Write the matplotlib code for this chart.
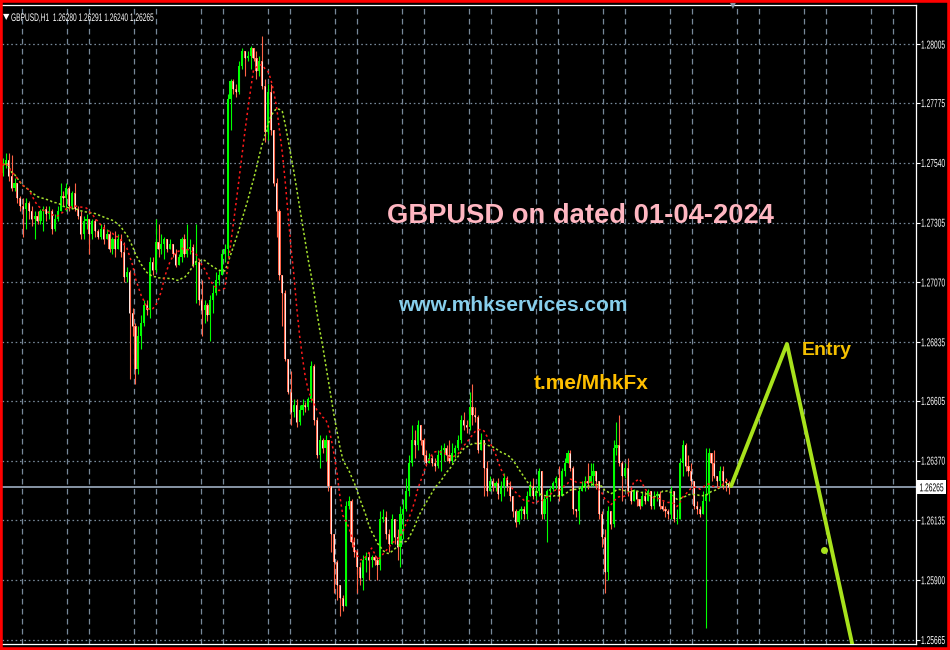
import numpy as np
import pandas as pd
import matplotlib
matplotlib.use("Agg")
import matplotlib.pyplot as plt
import matplotlib.transforms as mtransforms
from matplotlib.patches import Rectangle, PathPatch
from matplotlib.textpath import TextPath
from matplotlib.font_manager import FontProperties

# ── GBPUSD H1, valores ────────────────────────────────────────────────────────
first_open = 1.2750
closes = [
    1.2753, 1.2755, 1.2749, 1.2744, 1.2746, 1.2740, 1.2737, 1.2736, 1.2738, 1.2735,
    1.2732, 1.2733, 1.2731, 1.2735, 1.2736, 1.2734, 1.2735, 1.2728, 1.2732, 1.2735,
    1.2741, 1.2740, 1.2744, 1.2737, 1.2742, 1.2736, 1.2733, 1.2726, 1.2731, 1.2732,
    1.2726, 1.2731, 1.2727, 1.2725, 1.2728, 1.2724, 1.2726, 1.2720, 1.2724, 1.2720,
    1.2724, 1.2719, 1.2709, 1.2711, 1.2695, 1.2690, 1.2673, 1.2686, 1.2691, 1.2698,
    1.2696, 1.2715, 1.2712, 1.2723, 1.2720, 1.2722, 1.2724, 1.2720, 1.2722, 1.2718,
    1.2714, 1.2717, 1.2724, 1.2718, 1.2720, 1.2721, 1.2714, 1.2715, 1.2700, 1.2696,
    1.2698, 1.2694, 1.2700, 1.2703, 1.2708, 1.2710, 1.2718, 1.2720, 1.2779, 1.2786,
    1.2783, 1.2782, 1.2792, 1.2798, 1.2795, 1.2796, 1.2799, 1.2795, 1.2790, 1.2794,
    1.2784, 1.2766, 1.2782, 1.2767, 1.2746, 1.2735, 1.2710, 1.2703, 1.2677, 1.2664,
    1.2656, 1.2659, 1.2652, 1.2657, 1.2659, 1.2658, 1.2661, 1.2674, 1.2653, 1.2639,
    1.2645, 1.2642, 1.2645, 1.2627, 1.2608, 1.2597, 1.2588, 1.2583, 1.2580, 1.2619,
    1.2621, 1.2605, 1.2601, 1.2595, 1.2591, 1.2598, 1.2599, 1.2598, 1.2599, 1.2598,
    1.2596, 1.2614, 1.2615, 1.2608, 1.2604, 1.2614, 1.2607, 1.2603, 1.2616, 1.2618,
    1.2625, 1.2636, 1.2645, 1.2643, 1.2651, 1.2645, 1.2639, 1.2636, 1.2638, 1.2636,
    1.2635, 1.2639, 1.2641, 1.2642, 1.2639, 1.2637, 1.2640, 1.2642, 1.2645, 1.2653,
    1.2651, 1.2650, 1.2658, 1.2655, 1.2654, 1.2641, 1.2645, 1.2634, 1.2625, 1.2629,
    1.2627, 1.2628, 1.2624, 1.2627, 1.2630, 1.2627, 1.2623, 1.2617, 1.2613, 1.2617,
    1.2618, 1.2616, 1.2623, 1.2627, 1.2623, 1.2625, 1.2633, 1.2616, 1.2622, 1.2625,
    1.2626, 1.2628, 1.2630, 1.2623, 1.2633, 1.2636, 1.2640, 1.2634, 1.2618, 1.2617,
    1.2625, 1.2627, 1.2629, 1.2628, 1.2631, 1.2633, 1.2629, 1.2616, 1.2607, 1.2593,
    1.2617, 1.2612, 1.2642, 1.2643, 1.2636, 1.2631, 1.2634, 1.2625, 1.2621, 1.2625,
    1.2622, 1.2619, 1.2623, 1.2621, 1.2625, 1.2619, 1.2623, 1.2624, 1.2619, 1.2618,
    1.2617, 1.2616, 1.2625, 1.2614, 1.2614, 1.2636, 1.2643, 1.2635, 1.2633, 1.2629,
    1.2619, 1.2618, 1.2616, 1.2621, 1.2624, 1.2640, 1.2636, 1.2631, 1.2629, 1.2633,
    1.2629, 1.2628, 1.26265,
]
highs = [
    1.2756, 1.2758, 1.2758, 1.2757, 1.2748, 1.2746, 1.2741, 1.2740, 1.2740, 1.2739,
    1.2737, 1.2735, 1.2735, 1.2736, 1.2737, 1.2737, 1.2737, 1.2736, 1.2734, 1.2737,
    1.2746, 1.2743, 1.2746, 1.2745, 1.2743, 1.2746, 1.2737, 1.2735, 1.2733, 1.2734,
    1.2732, 1.2732, 1.2732, 1.2728, 1.2730, 1.2730, 1.2728, 1.2727, 1.2725, 1.2727,
    1.2726, 1.2726, 1.2723, 1.2713, 1.2712, 1.2697, 1.2691, 1.2690, 1.2694, 1.2700,
    1.2700, 1.2717, 1.2717, 1.2732, 1.2730, 1.2726, 1.2725, 1.2724, 1.2724, 1.2722,
    1.2720, 1.2718, 1.2725, 1.2726, 1.2730, 1.2724, 1.2722, 1.2730, 1.2716, 1.2708,
    1.2700, 1.2699, 1.2702, 1.2706, 1.2711, 1.2712, 1.2720, 1.2722, 1.2781, 1.2787,
    1.2787, 1.2785, 1.2794, 1.2799, 1.2798, 1.2798, 1.2800, 1.2798, 1.2798, 1.2796,
    1.2804, 1.2787, 1.2785, 1.2785, 1.2767, 1.2748, 1.2736, 1.2710, 1.2704, 1.2671,
    1.2672, 1.2661, 1.2661, 1.2659, 1.2661, 1.2660, 1.2662, 1.2676, 1.2675, 1.2654,
    1.2647, 1.2646, 1.2647, 1.2643, 1.2627, 1.2608, 1.2598, 1.2588, 1.2584, 1.2621,
    1.2623, 1.2622, 1.2607, 1.2602, 1.2597, 1.2600, 1.2601, 1.2601, 1.2600, 1.2600,
    1.2599, 1.2617, 1.2618, 1.2617, 1.2610, 1.2616, 1.2614, 1.2610, 1.2619, 1.2622,
    1.2630, 1.2639, 1.2651, 1.2649, 1.2653, 1.2649, 1.2646, 1.2641, 1.2640, 1.2639,
    1.2638, 1.2641, 1.2643, 1.2644, 1.2643, 1.2645, 1.2644, 1.2643, 1.2647, 1.2655,
    1.2656, 1.2653, 1.2664, 1.2667, 1.2658, 1.2655, 1.2648, 1.2645, 1.2637, 1.2631,
    1.2630, 1.2629, 1.2630, 1.2629, 1.2632, 1.2631, 1.2629, 1.2623, 1.2618, 1.2618,
    1.2619, 1.2619, 1.2625, 1.2629, 1.2630, 1.2627, 1.2634, 1.2633, 1.2623, 1.2626,
    1.2627, 1.2629, 1.2631, 1.2635, 1.2634, 1.2638, 1.2641, 1.2641, 1.2635, 1.2618,
    1.2627, 1.2629, 1.2631, 1.2636, 1.2636, 1.2636, 1.2633, 1.2629, 1.2617, 1.2610,
    1.2619, 1.2617, 1.2645, 1.2652, 1.2655, 1.2637, 1.2636, 1.2638, 1.2627, 1.2626,
    1.2624, 1.2621, 1.2625, 1.2625, 1.2626, 1.2625, 1.2625, 1.2625, 1.2625, 1.2621,
    1.2619, 1.2618, 1.2627, 1.2625, 1.2618, 1.2638, 1.2645, 1.2644, 1.2639, 1.2636,
    1.2629, 1.2621, 1.2619, 1.2625, 1.2642, 1.2642, 1.2639, 1.2641, 1.2631, 1.2635,
    1.2635, 1.2630, 1.26291,
]
lows = [
    1.2749, 1.2752, 1.2747, 1.2743, 1.2743, 1.2738, 1.2735, 1.2725, 1.2728, 1.2732,
    1.2729, 1.2724, 1.2730, 1.2730, 1.2727, 1.2731, 1.2732, 1.2726, 1.2727, 1.2731,
    1.2735, 1.2737, 1.2735, 1.2735, 1.2736, 1.2735, 1.2732, 1.2724, 1.2724, 1.2728,
    1.2718, 1.2724, 1.2725, 1.2724, 1.2724, 1.2722, 1.2724, 1.2719, 1.2718, 1.2717,
    1.2720, 1.2717, 1.2707, 1.2707, 1.2669, 1.2686, 1.2667, 1.2671, 1.2681, 1.2690,
    1.2694, 1.2693, 1.2710, 1.2711, 1.2717, 1.2718, 1.2716, 1.2719, 1.2720, 1.2717,
    1.2713, 1.2714, 1.2715, 1.2717, 1.2717, 1.2718, 1.2713, 1.2699, 1.2698, 1.2686,
    1.2691, 1.2692, 1.2684, 1.2695, 1.2702, 1.2706, 1.2710, 1.2715, 1.2717, 1.2767,
    1.2781, 1.2780, 1.2781, 1.2791, 1.2788, 1.2794, 1.2791, 1.2794, 1.2787, 1.2788,
    1.2783, 1.2762, 1.2763, 1.2765, 1.2745, 1.2725, 1.2708, 1.2690, 1.2676, 1.2663,
    1.2651, 1.2654, 1.2650, 1.2651, 1.2655, 1.2656, 1.2657, 1.2660, 1.2651, 1.2638,
    1.2634, 1.2640, 1.2637, 1.2625, 1.2601, 1.2585, 1.2582, 1.2576, 1.2578, 1.2581,
    1.2618, 1.2603, 1.2599, 1.2585, 1.2588, 1.2586, 1.2593, 1.2590, 1.2595, 1.2596,
    1.2590, 1.2594, 1.2613, 1.2606, 1.2601, 1.2606, 1.2604, 1.2598, 1.2595, 1.2606,
    1.2617, 1.2623, 1.2635, 1.2638, 1.2641, 1.2643, 1.2637, 1.2635, 1.2636, 1.2635,
    1.2633, 1.2634, 1.2633, 1.2637, 1.2637, 1.2636, 1.2636, 1.2638, 1.2641, 1.2644,
    1.2649, 1.2648, 1.2649, 1.2651, 1.2652, 1.2640, 1.2642, 1.2623, 1.2623, 1.2626,
    1.2625, 1.2625, 1.2622, 1.2621, 1.2623, 1.2625, 1.2621, 1.2615, 1.2611, 1.2612,
    1.2614, 1.2614, 1.2614, 1.2625, 1.2622, 1.2622, 1.2623, 1.2614, 1.2614, 1.2605,
    1.2621, 1.2625, 1.2626, 1.2621, 1.2629, 1.2631, 1.2636, 1.2633, 1.2616, 1.2615,
    1.2612, 1.2625, 1.2625, 1.2626, 1.2627, 1.2627, 1.2626, 1.2614, 1.2603, 1.2585,
    1.2590, 1.2610, 1.2611, 1.2639, 1.2635, 1.2621, 1.2630, 1.2623, 1.2620, 1.2621,
    1.2619, 1.2618, 1.2620, 1.2620, 1.2621, 1.2618, 1.2618, 1.2621, 1.2618, 1.2617,
    1.2615, 1.2614, 1.2614, 1.2613, 1.2612, 1.2614, 1.2631, 1.2633, 1.2631, 1.2627,
    1.2618, 1.2616, 1.2615, 1.2616, 1.2571, 1.2621, 1.2629, 1.2630, 1.2627, 1.2627,
    1.2626, 1.2625, 1.26240,
]

price_ticks = [1.28005, 1.27775, 1.27540, 1.27305, 1.27070, 1.26835,
               1.26605, 1.26370, 1.26135, 1.25900, 1.25665]
last_price = 1.26265
header = "GBPUSD,H1  1.26280 1.26291 1.26240 1.26265"

# trazo de la idea (barra, precio) y punto suelto
plan_bars = [252.8, 272.2, 295.3]
plan_prices = [1.2627, 1.26828, 1.25625]
dot_bar = [285.1]
dot_price = [1.2602]

# ── preparar velas ───────────────────────────────────────────────────────────
c = np.array(closes)
o = np.r_[first_open, c[:-1]]
h = np.maximum(np.array(highs), np.maximum(o, c))
l = np.minimum(np.array(lows), np.minimum(o, c))
x = np.arange(len(c))
bull = c >= o
bear = ~bull

ma_fast = pd.Series(c).rolling(10, min_periods=1).mean()
ma_slow = pd.Series(c).rolling(20, min_periods=1).mean()

GRID = "#778899"
LIME = "#00FF00"
BEAR = "#FF6347"
BOLD = ["Liberation Sans", "DejaVu Sans"]
SMALL_FONT = FontProperties(family=["Liberation Sans", "DejaVu Sans"])


def squeezed(fig, s, px, py, size, color, sx=0.58):
    # texto estrecho tipo MT4, en píxeles de figura (origen abajo a la izquierda)
    tp = TextPath((0, 0), s, size=size, prop=SMALL_FONT)
    tr = mtransforms.Affine2D().scale(sx, 1).translate(px, py)
    fig.patches.append(PathPatch(tp, transform=tr, fc=color, ec="none", lw=0,
                                 zorder=30))


fig = plt.figure(figsize=(9.5, 6.5), dpi=100, facecolor="black")
ax = fig.add_axes([2 / 950, 6 / 650, 914 / 950, 639 / 650])
ax.set_facecolor("black")
ax.set_xlim(-0.35, 317.0)
ax.set_ylim(1.25649, 1.28160)

# rejilla
for p in price_ticks:
    ax.axhline(p, color=GRID, lw=0.9, ls=(0, (1.3, 2.2)), zorder=0)
vgrid = np.sort(np.r_[np.arange(6.6, 317, 23.26), np.arange(22.2, 317, 23.26)])
for g in vgrid:
    ax.axvline(g, color=GRID, lw=0.9, ls=(0, (4.5, 3.5)), zorder=0)

# velas
ax.vlines(x[bull], l[bull], h[bull], colors=LIME, lw=0.8, zorder=3)
ax.vlines(x[bear], l[bear], h[bear], colors=BEAR, lw=0.8, zorder=3)
body_lo = np.minimum(o, c)
body_h = np.maximum(np.abs(c - o), 0.00004)
ax.bar(x[bull], body_h[bull], bottom=body_lo[bull], width=0.75, color=LIME,
       linewidth=0, zorder=4)
ax.bar(x[bear], body_h[bear], bottom=body_lo[bear], width=0.75, color=BEAR,
       linewidth=0, zorder=4)
ax.vlines(x[bear] - 0.12, body_lo[bear], body_lo[bear] + body_h[bear],
          colors="white", lw=0.6, zorder=5)

# medias móviles
ax.plot(x, ma_slow, color="#A6E22E", lw=1.1, ls=(0, (1.5, 1.5)), zorder=6)
ax.plot(x, ma_fast, color="#FF1A1A", lw=1.1, ls=(0, (1.5, 2.0)), zorder=6)

# precio actual
ax.axhline(last_price, color="#8795A5", lw=1.4, zorder=2)

# idea de entrada
ax.plot(plan_bars, plan_prices, color="#A8E21C", lw=2.8,
        solid_capstyle="round", solid_joinstyle="round", zorder=7)
ax.plot(dot_bar, dot_price, "o", color="#A8E21C", ms=4, zorder=7)

# textos
ax.text(133.3, 1.27302, "GBPUSD on dated 01-04-2024", color="#FFB6C1",
        fontsize=19.7, fontweight="bold", family=BOLD, va="baseline", zorder=8)
ax.text(137.2, 1.26959, "www.mhkservices.com", color="#87CEEB",
        fontsize=15, fontweight="bold", family=BOLD, va="baseline", zorder=8)
ax.text(184.4, 1.26650, "t.me/MhkFx", color="#FFBF00",
        fontsize=15, fontweight="bold", family=BOLD, va="baseline", zorder=8)
ax.text(277.4, 1.26785, "Entry", color="#F5C000",
        fontsize=14, fontweight="bold", family=BOLD, va="baseline", zorder=8)

# ejes
ax.yaxis.tick_right()
ax.set_yticks(price_ticks)
ax.set_yticklabels([])
ax.tick_params(axis="y", colors="white", length=3, width=0.8)
ax.set_xticks([])
ax.spines["left"].set_visible(False)
for side in ["right", "bottom", "top"]:
    ax.spines[side].set_color("white")
    ax.spines[side].set_linewidth(0.9)

# etiquetas de precio estrechas
ax_right = ax.transAxes.transform((1, 0))[0]
for p in price_ticks:
    ty = ax.transData.transform((0, p))[1]
    squeezed(fig, f"{p:.5f}", ax_right + 5, ty - 4.1, 11.5, "white")

# etiqueta del precio actual
ty = ax.transData.transform((0, last_price))[1]
fig.patches.append(Rectangle((ax_right + 1, ty - 7), 29, 14, transform=None,
                             fc="white", ec="none", zorder=29))
squeezed(fig, f"{last_price:.5f}", ax_right + 3.5, ty - 4.1, 11.5, "black")

# cabecera y marcador
fig.text(3 / 950, 1 - 17 / 650, "▼", color="white", fontsize=6,
         family=["DejaVu Sans"], va="center", ha="left")
squeezed(fig, header, 11, 650 - 21, 11, "white", sx=0.6)
fig.text(733 / 950, 1 - 6 / 650, "▼", color="#8795A5", fontsize=5.5,
         family=["DejaVu Sans"], va="center", ha="center")

# marco rojo
fig.patches.append(Rectangle((0, 0), 1, 1, transform=fig.transFigure,
                             fill=False, ec="#FF0000", lw=4, zorder=20))

fig.savefig("out.png", dpi=100, facecolor="black")
